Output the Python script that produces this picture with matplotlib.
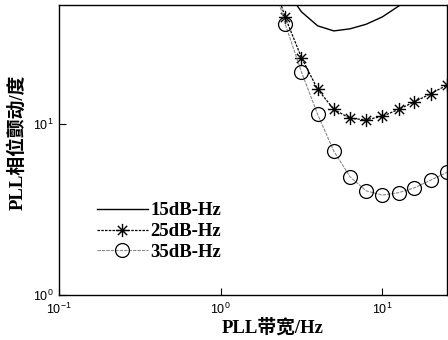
import numpy as np
import matplotlib
matplotlib.use("Agg")
import matplotlib.pyplot as plt
from matplotlib.path import Path

plt.rcParams['mathtext.fontset'] = 'custom'
plt.rcParams['mathtext.rm'] = 'Liberation Sans'
plt.rcParams['mathtext.it'] = 'Liberation Sans'

# data
bw = [2.0, 2.51, 3.16, 3.98, 5.01, 6.31, 7.94, 10.0, 12.6, 15.8, 20.0, 25.1]
jit_15 = [120, 62, 45.4, 37.6, 35.1, 36.1, 38.4, 42.4, 49.0, 56.0, 64.0, 73.0]
jit_25 = [80, 42.1, 24.5, 16.0, 12.2, 10.8, 10.6, 11.1, 12.2, 13.5, 15.1, 16.9]
jit_35 = [80, 38.4, 20.2, 11.4, 6.95, 4.92, 4.07, 3.84, 3.97, 4.24, 4.71, 5.22]
series_labels = ['15dB-Hz', '25dB-Hz', '35dB-Hz']
xtick_vals = [0.1, 1, 10]
xtick_labels = ['$10^{-1}$', '$10^{0}$', '$10^{1}$']
ytick_vals = [1, 10]
ytick_labels = ['$10^{0}$', '$10^{1}$']

# asterisk marker (MATLAB-like)
a = 0.7071
ast = Path([(-1, 0), (1, 0), (0, -1), (0, 1), (-a, -a), (a, a), (-a, a), (a, -a)],
           [Path.MOVETO, Path.LINETO] * 4)

fig = plt.figure(figsize=(4.48, 3.4), dpi=100)
ax = fig.add_axes([59/448, 1-295/340, (447-59)/448, (295-5)/340])

ax.plot(bw, jit_15, color='black', lw=1.0, label=series_labels[0])
ax.plot(bw, jit_25, color='black', lw=0.9, ls=(0, (2, 1)), marker=ast,
        markersize=9.5, markeredgewidth=1.0, markevery=list(range(1, len(bw))),
        label=series_labels[1])
ax.plot(bw, jit_35, color='#8a8a8a', lw=0.8, ls=(0, (3, 1)), marker='o',
        markersize=10, markerfacecolor='none', markeredgecolor='black',
        markeredgewidth=0.9, markevery=list(range(1, len(bw))),
        label=series_labels[2])

ax.set_xscale('log')
ax.set_yscale('log')
ax.set_xlim(0.1, 10**1.4)
ax.set_ylim(1, 10**1.697)
ax.set_xticks(xtick_vals)
ax.set_xticklabels(xtick_labels)
ax.set_yticks(ytick_vals)
ax.set_yticklabels(ytick_labels)
ax.minorticks_off()
ax.tick_params(direction='in', length=5, width=0.8, labelsize=9,
               top=False, right=False)
ax.tick_params(axis='x', pad=5)
ax.tick_params(axis='y', pad=4)
for s in ax.spines.values():
    s.set_linewidth(1.0)

font_lbl = dict(family=['Liberation Serif', 'Noto Sans CJK SC'], weight='bold', size=13.5)
fig.text(273/448, 1-327/340, 'PLL带宽/Hz', ha='center', va='center', **font_lbl)
fig.text(17/448, 1-142/340, 'PLL相位颤动/度', ha='center', va='center', rotation=90, **font_lbl)

leg = ax.legend(loc='lower left', bbox_to_anchor=(38/388, 34/290), frameon=False,
                prop=dict(family='Liberation Serif', weight='bold', size=13.5),
                handlelength=2.7, handletextpad=0.15, labelspacing=0.2,
                borderaxespad=0, borderpad=0, markerscale=1.0)

fig.savefig('out.png', dpi=100)
